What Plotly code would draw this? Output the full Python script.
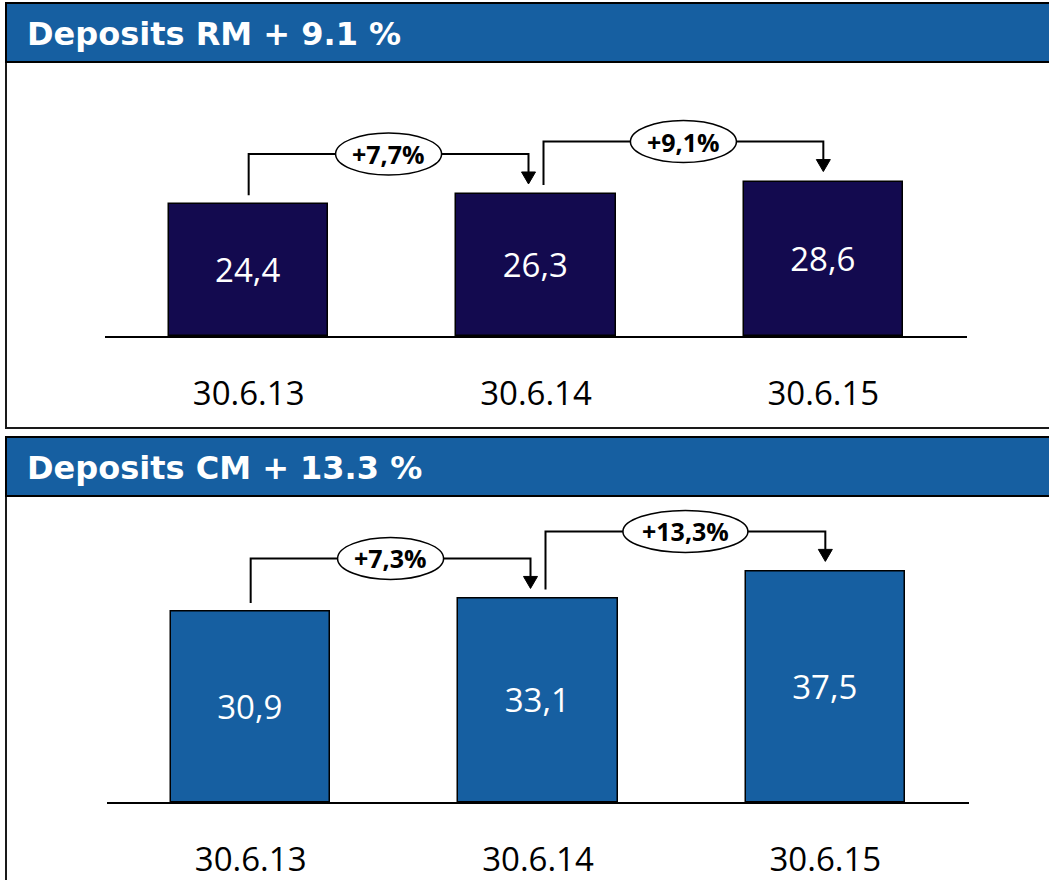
import plotly.graph_objects as go

# ---- data ----
dates = ["30.6.13", "30.6.14", "30.6.15"]
rm_deposits = [24.4, 26.3, 28.6]
cm_deposits = [30.9, 33.1, 37.5]
rm_growth = ["+7,7%", "+9,1%"]
cm_growth = ["+7,3%", "+13,3%"]
rm_title = "Deposits RM + 9.1 %"
cm_title = "Deposits CM + 13.3 %"

# ---- page geometry (pixels) ----
W, H = 1049, 880
HEADER_BLUE = "#165FA1"
RM_COLOR = "#130A4F"
CM_COLOR = "#165FA1"
X_RANGE = [-0.5, 2.5]
Y_MAX = 50


def fx(p):
    return p / W


def fy(p):
    return 1 - p / H


panels = [
    dict(title=rm_title, values=rm_deposits, growth=rm_growth, color=RM_COLOR,
         left=105, right=967, base=336, ppu=5.40,
         frame_top=3, frame_bottom=428, header_bottom=62, xa="x", ya="y"),
    dict(title=cm_title, values=cm_deposits, growth=cm_growth, color=CM_COLOR,
         left=107, right=969, base=802, ppu=6.15,
         frame_top=437, frame_bottom=900, header_bottom=496, xa="x2", ya="y2"),
]

fig = go.Figure()
shapes = []
annotations = []
layout_axes = {}

for k, p in enumerate(panels):
    xs = list(range(len(dates)))
    fig.add_trace(go.Bar(
        x=xs, y=p["values"], width=0.554,
        marker=dict(color=p["color"], line=dict(color="black", width=1.5)),
        text=[f"{v:.1f}".replace(".", ",") for v in p["values"]],
        textposition="inside", insidetextanchor="middle",
        textfont=dict(family="Open Sans", size=33, color="white"),
        xaxis=p["xa"], yaxis=p["ya"], showlegend=False, hoverinfo="skip",
    ))

    top_px = p["base"] - Y_MAX * p["ppu"]
    xname = "xaxis" if k == 0 else "xaxis2"
    yname = "yaxis" if k == 0 else "yaxis2"
    layout_axes[xname] = dict(
        domain=[fx(p["left"]), fx(p["right"])], range=X_RANGE,
        tickvals=xs, ticktext=dates, ticks="", showgrid=False, zeroline=False,
        showline=True, linecolor="black", linewidth=2,
        tickfont=dict(family="Open Sans", size=33, color="black"),
        ticklabelstandoff=27, anchor=p["ya"], fixedrange=True, automargin=False,
    )
    layout_axes[yname] = dict(
        domain=[fy(p["base"]), fy(top_px)], range=[0, Y_MAX], visible=False,
        anchor=p["xa"], fixedrange=True,
    )

    # panel frame and header band
    shapes.append(dict(type="rect", xref="paper", yref="paper",
                       x0=fx(6), x1=fx(W + 10), y0=fy(p["frame_bottom"]), y1=fy(p["frame_top"]),
                       line=dict(color="#1a1a1a", width=2), fillcolor="rgba(0,0,0,0)", layer="above"))
    shapes.append(dict(type="rect", xref="paper", yref="paper",
                       x0=fx(6), x1=fx(W + 10), y0=fy(p["header_bottom"]), y1=fy(p["frame_top"]),
                       line=dict(color="black", width=2), fillcolor=HEADER_BLUE, layer="above"))
    annotations.append(dict(xref="paper", yref="paper", x=fx(25),
                            y=fy((p["frame_top"] + p["header_bottom"]) / 2 + 1),
                            xanchor="left", yanchor="middle", showarrow=False, text=p["title"],
                            font=dict(family="DejaVu Sans", size=32, color="white", weight="bold")))

    # growth brackets between consecutive bars
    ppu = p["ppu"]
    ppx = (p["right"] - p["left"]) / (X_RANGE[1] - X_RANGE[0])
    off = 7.5 / ppx
    n = len(p["values"])
    for i in range(n - 1):
        j = i + 1
        vi, vj = p["values"][i], p["values"][j]
        x_start = i + (off if i > 0 else 0)
        x_end = j - (off if j < n - 1 else 0)
        y_start = vi + 9 / ppu
        y_tip = vj + 10 / ppu
        y_head = y_tip + 12 / ppu
        y_h = max(vi, vj) + 40 / ppu
        shapes.append(dict(type="path", xref=p["xa"], yref=p["ya"],
                           path=f"M {x_start},{y_start} L {x_start},{y_h} L {x_end},{y_h} L {x_end},{y_head}",
                           line=dict(color="black", width=2), layer="above"))
        hw = 7 / ppx
        shapes.append(dict(type="path", xref=p["xa"], yref=p["ya"],
                           path=f"M {x_end - hw},{y_head} L {x_end + hw},{y_head} L {x_end},{y_tip} Z",
                           line=dict(color="black", width=1), fillcolor="black", layer="above"))
        label = p["growth"][i]
        ew = 19 * len(label) + 11
        xm = (x_start + x_end) / 2
        shapes.append(dict(type="circle", xref=p["xa"], yref=p["ya"],
                           xsizemode="pixel", ysizemode="pixel", xanchor=xm, yanchor=y_h,
                           x0=-ew / 2, x1=ew / 2, y0=-21, y1=21,
                           line=dict(color="black", width=1.5), fillcolor="white", layer="above"))
        annotations.append(dict(xref=p["xa"], yref=p["ya"], x=xm, y=y_h, showarrow=False,
                                text=label, xanchor="center", yanchor="middle",
                                font=dict(family="Open Sans", size=25, color="black", weight="bold")))

fig.update_layout(
    width=W, height=H, margin=dict(l=0, r=0, t=0, b=0, autoexpand=False),
    paper_bgcolor="white", plot_bgcolor="white",
    shapes=shapes, annotations=annotations, bargap=0,
    **layout_axes,
)

fig.write_html("out.html")
